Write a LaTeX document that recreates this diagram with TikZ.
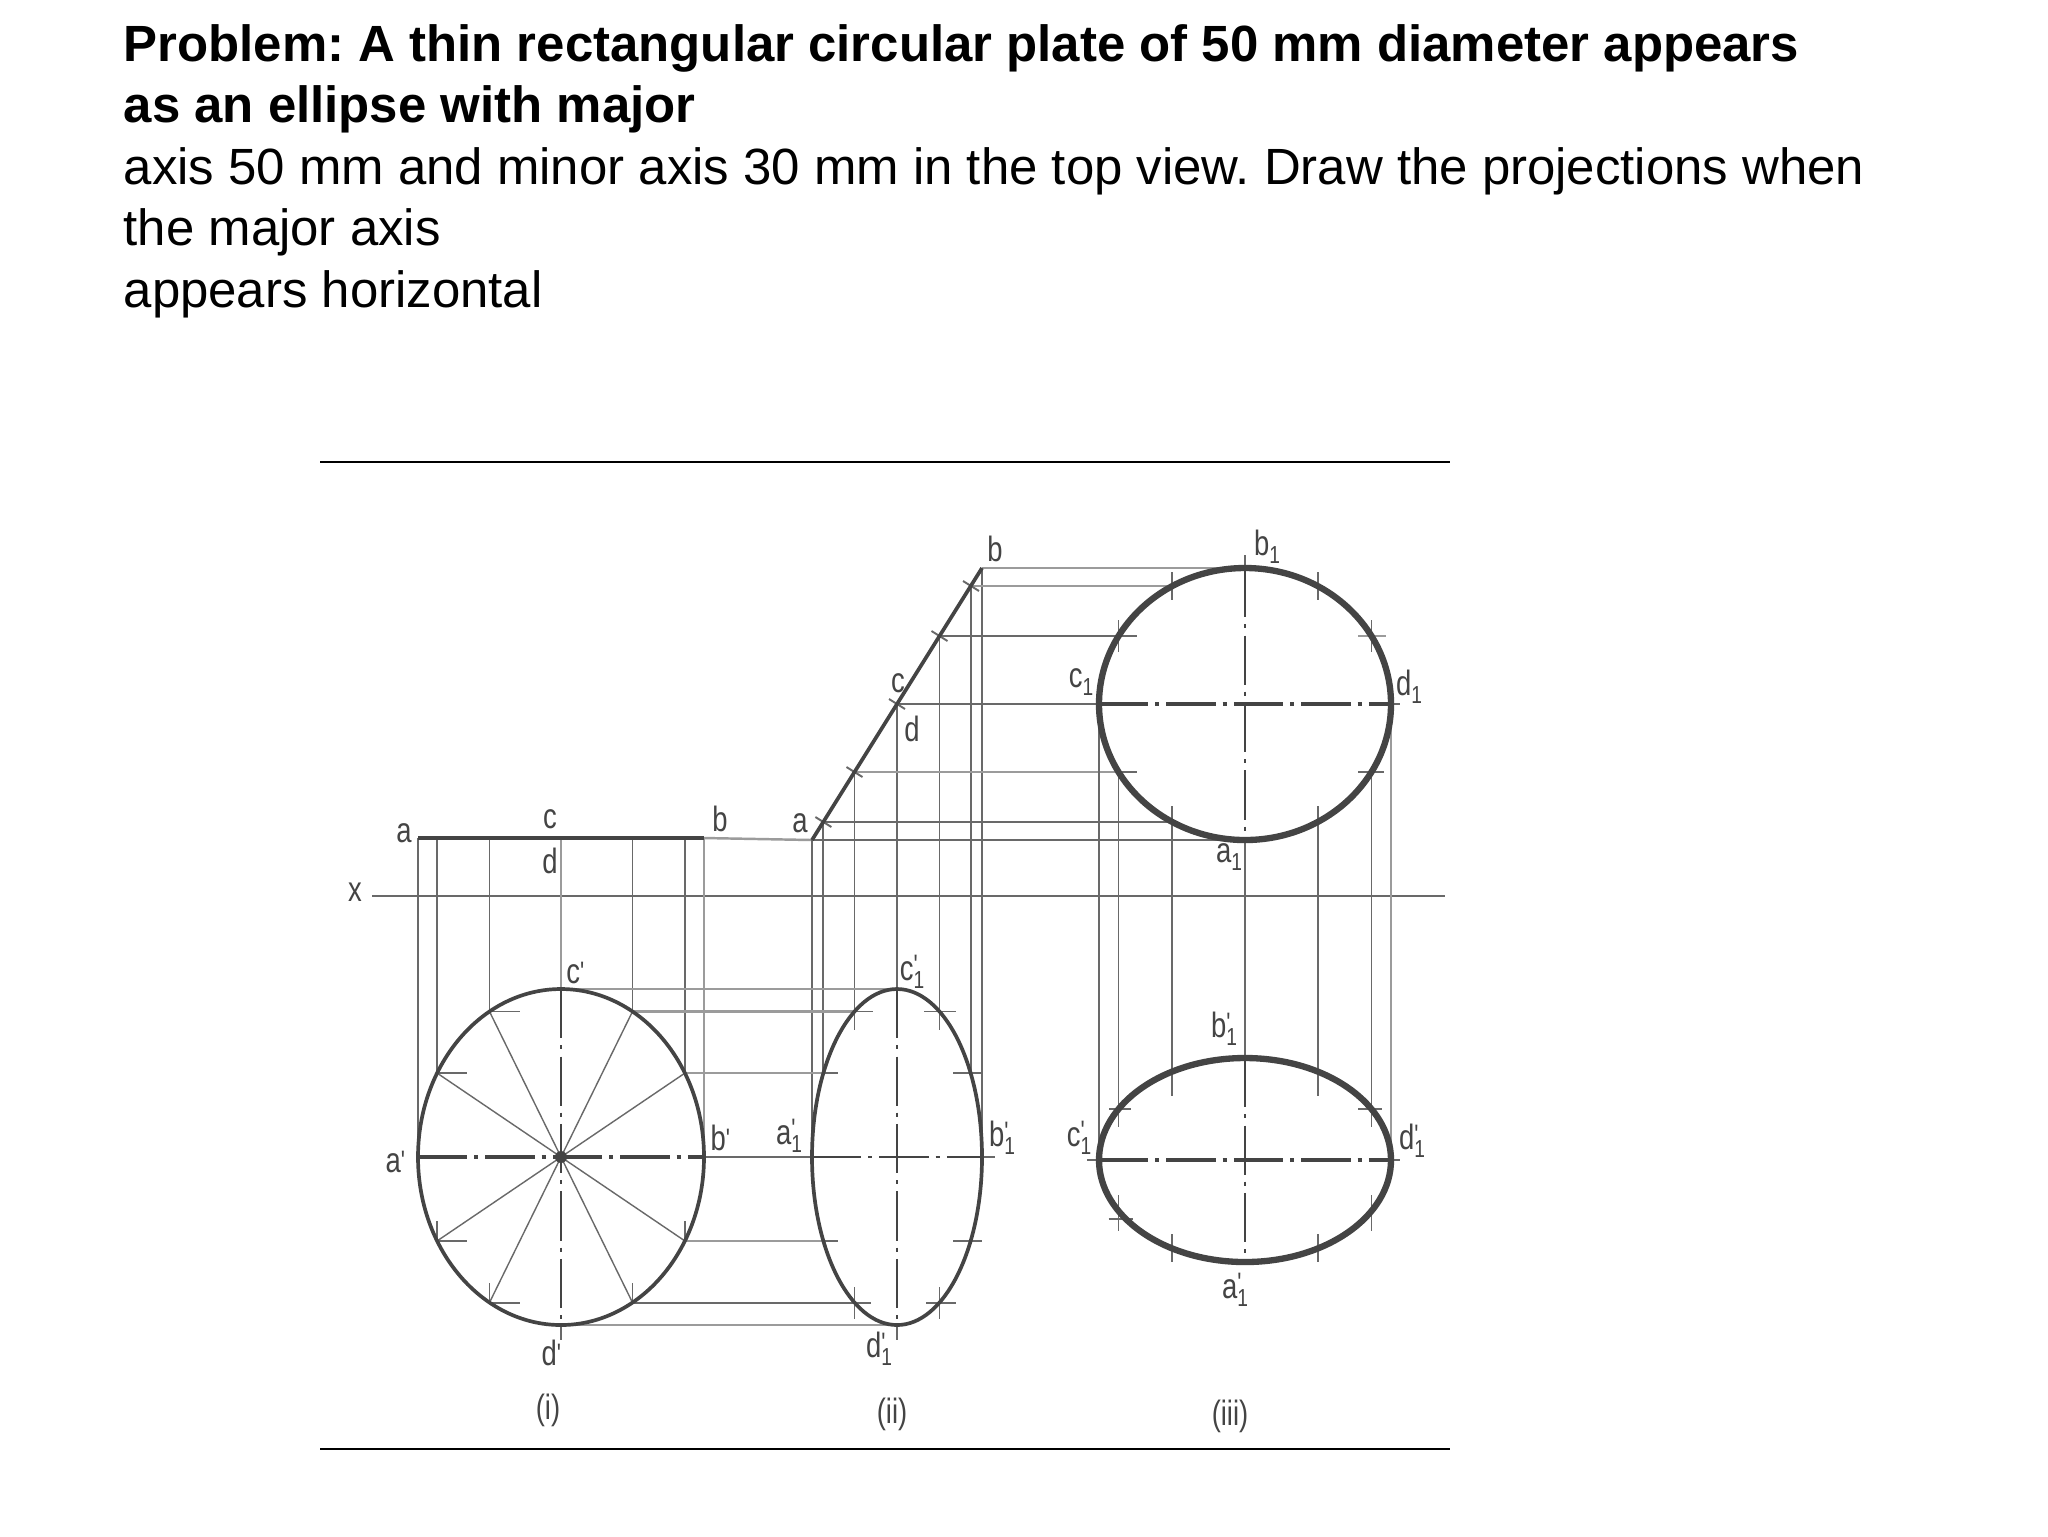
\documentclass[tikz,border=0pt]{standalone}
\usepackage{fontspec}
\setmainfont{Liberation Sans}
\newfontfamily\scanfont[FakeStretch=0.78]{Liberation Sans}
\usepackage{xcolor}
\definecolor{Col1}{RGB}{68,68,68}
\definecolor{Col2}{RGB}{105,105,105}
\definecolor{Col3}{RGB}{155,155,155}
\usepackage{tikz}
\frenchspacing
\newcommand{\Low}[1]{#1\raisebox{-.45ex}{\scriptsize 1}}
\newcommand{\High}[1]{#1\rlap{\raisebox{.3ex}{\footnotesize\textquotesingle}}\raisebox{-.45ex}{\scriptsize 1}}
\newcommand{\Tick}[1]{#1\raisebox{.1ex}{\footnotesize\textquotesingle}}
\tikzstyle{Title}=[anchor=base west,inner sep=0pt,font=\fontsize{14.49}{17}\selectfont]
\tikzstyle{NodeST}=[inner sep=0pt,text=Col1,font=\fontsize{10}{12}\scanfont]
\tikzstyle{Rule}=[draw=black,line width=.65pt]
\tikzstyle{Proj}=[draw=Col2,line width=.55pt]
\tikzstyle{ProjL}=[draw=Col3,line width=.7pt]
\tikzstyle{Spoke}=[draw=Col2,line width=.4pt]
\tikzstyle{Edge}=[draw=Col1,line width=1.05pt]
\tikzstyle{EdgeB}=[draw=Col1,line width=1.8pt]
\tikzstyle{Axis}=[draw=Col1,line width=.6pt,dash pattern=on 14pt off 2pt on 1.2pt off 2pt]
\begin{document}
\begin{tikzpicture}[x=.1mm,y=-.1mm]
        \useasboundingbox(0,0)rectangle(2048,1536);
        \fill[white](0,0)rectangle(2048,1536);
        \node[Title](t1)at(123,61){\bfseries Problem: A thin rectangular circular plate of 50 mm diameter appears};
        \node[Title](t2)at(123,122.5){\bfseries as an ellipse with major};
        \node[Title](t3)at(123,184){axis 50 mm and minor axis 30 mm in the top view. Draw the projections when};
        \node[Title](t4)at(123,245){the major axis};
        \node[Title](t5)at(123,307){appears horizontal};
        \coordinate(r1)at(320,462);
        \coordinate(r2)at(1450,462);
        \coordinate(r3)at(320,1449);
        \coordinate(r4)at(1450,1449);
        \coordinate(x1)at(372,896);
        \coordinate(x2)at(1445,896);
        \coordinate(TA)at(418,838);
        \coordinate(T1)at(437,838);
        \coordinate(T2)at(489.5,838);
        \coordinate(T3)at(561,838);
        \coordinate(T4)at(632.5,838);
        \coordinate(T5)at(685,838);
        \coordinate(TB)at(704,838);
        \coordinate(O1)at(561,1157);
        \coordinate(PA)at(418,1157);
        \coordinate(PB)at(704,1157);
        \coordinate(PC)at(561,989);
        \coordinate(PD)at(561,1325);
        \coordinate(PE)at(561,1340);
        \coordinate(P1)at(437,1073);
        \coordinate(P2)at(489.5,1011.5);
        \coordinate(P4)at(632.5,1011.5);
        \coordinate(P5)at(685,1073);
        \coordinate(Q1)at(437,1241);
        \coordinate(Q2)at(489.5,1302.5);
        \coordinate(Q4)at(632.5,1302.5);
        \coordinate(Q5)at(685,1241);
        \coordinate(SA)at(812,840);
        \coordinate(S1)at(823.4,822);
        \coordinate(S2)at(854.5,772);
        \coordinate(S3)at(897,704);
        \coordinate(S4)at(939.5,636);
        \coordinate(S5)at(971,586);
        \coordinate(SB)at(982,568);
        \coordinate(O2)at(897,1157);
        \coordinate(UA)at(812,1157);
        \coordinate(UB)at(982,1157);
        \coordinate(UE)at(995,1157);
        \coordinate(UC)at(897,989);
        \coordinate(UD)at(897,1325);
        \coordinate(UF)at(897,1340);
        \coordinate(U1)at(823.4,1073);
        \coordinate(U2)at(854.5,1011.5);
        \coordinate(U4)at(939.5,1011.5);
        \coordinate(U5)at(971,1073);
        \coordinate(V1)at(823.4,1241);
        \coordinate(V2)at(854.5,1302.5);
        \coordinate(V4)at(939.5,1302.5);
        \coordinate(V5)at(971,1241);
        \coordinate(O3)at(1245,704);
        \coordinate(WA)at(1245,840);
        \coordinate(WB)at(1245,568);
        \coordinate(WE)at(1245,555);
        \coordinate(WC)at(1099,704);
        \coordinate(WD)at(1391,704);
        \coordinate(WF)at(1400,704);
        \coordinate(W1)at(1172,586);
        \coordinate(W2)at(1118.5,636);
        \coordinate(W4)at(1318,586);
        \coordinate(W5)at(1371.5,636);
        \coordinate(W6)at(1118.5,772);
        \coordinate(W7)at(1172,822);
        \coordinate(W8)at(1318,822);
        \coordinate(W9)at(1371.5,772);
        \coordinate(O4)at(1245,1160);
        \coordinate(XA)at(1245,1262);
        \coordinate(XB)at(1245,1058);
        \coordinate(XC)at(1099,1160);
        \coordinate(XD)at(1391,1160);
        \coordinate(XE)at(1087,1160);
        \coordinate(XF)at(1400,1160);
        \coordinate(X1)at(1172,1072);
        \coordinate(X2)at(1118.5,1109);
        \coordinate(X4)at(1318,1072);
        \coordinate(X5)at(1371.5,1109);
        \coordinate(X6)at(1118.5,1211);
        \coordinate(X7)at(1172,1248);
        \coordinate(X8)at(1318,1248);
        \coordinate(X9)at(1371.5,1211);
        \draw[Rule](r1)--(r2);
        \draw[Rule](r3)--(r4);
        \draw[Proj,line width=.7pt](x1)--(x2);
        \draw[Proj](TA)--(PA);
        \draw[Proj](T1)--(P1);
        \draw[Proj](T2)--(P2);
        \draw[ProjL](T3)--(PC);
        \draw[Proj](T4)--(P4);
        \draw[Proj](T5)--(P5);
        \draw[ProjL](TB)--(PB);
        \draw[ProjL](TB)--(SA);
        \draw[Proj](SA)--(WA);
        \draw[Proj](SA)--(UA);
        \draw[Proj](S1)--(U1);
        \draw[Proj](S2)--(U2);
        \draw[Proj](S3)--(UC);
        \draw[Proj](S4)--(U4);
        \draw[Proj](S5)--(U5);
        \draw[Proj](SB)--(UB);
        \draw[ProjL](SB)--(WB);
        \draw[ProjL](S5)--(W1);
        \draw[Proj](S4)--(W2);
        \draw[Proj](S3)--(WC);
        \draw[ProjL](S2)--(W6);
        \draw[Proj](S1)--(W7);
        \draw[Proj](WC)--(XC);
        \draw[Proj](W6)--(X2);
        \draw[Proj](W7)--(X1);
        \draw[Proj](WA)--(XB);
        \draw[Proj](W8)--(X4);
        \draw[Proj](W9)--(X5);
        \draw[ProjL](WD)--(XD);
        \draw[ProjL](PC)--(UC);
        \draw[ProjL](P4)--(U2);
        \draw[ProjL](P5)--(U1);
        \draw[Proj](PB)--(UA);
        \draw[ProjL](Q5)--(V1);
        \draw[Proj](Q4)--(V2);
        \draw[ProjL](PD)--(UD);
        \draw[Spoke](P1)--(Q5);
        \draw[Spoke](P2)--(Q4);
        \draw[Spoke](P4)--(Q2);
        \draw[Spoke](P5)--(Q1);
        \draw[Axis,line width=.9pt](PA)--(PB);
        \draw[Axis](PC)--(PD);
        \draw[Proj](PD)--(PE);
        \draw[Axis,line width=.55pt](UA)--(UB);
        \draw[Proj](UB)--(UE);
        \draw[Axis,line width=.55pt](UC)--(UD);
        \draw[Proj](UD)--(UF);
        \draw[Axis,line width=.9pt](WC)--(WD);
        \draw[Proj](WD)--(WF);
        \draw[Axis,line width=.55pt](WB)--(WA);
        \draw[Proj](WE)--(WB);
        \draw[Axis,line width=.9pt](XC)--(XD);
        \draw[Proj](XE)--(XC);
        \draw[Proj](XD)--(XF);
        \draw[Axis,line width=.55pt](XB)--(XA);
        \fill[Col1](O1)circle(6);
        \draw[Proj](P1)--++(30,0);
        \draw[Proj](P2)--++(30,0);
        \draw[Proj](Q1)--++(30,0);
        \draw[Proj](Q1)--++(0,-20);
        \draw[Proj](Q2)--++(30,0);
        \draw[Proj](Q2)--++(0,-20);
        \draw[Proj](Q4)--++(0,-20);
        \draw[Proj](Q5)--++(0,-20);
        \draw[Proj](U1)--++(15,0);
        \draw[Proj](U2)--++(18,0);
        \draw[Proj](U2)--++(0,18);
        \draw[Proj](U4)--++(-16,0);
        \draw[Proj](U4)--++(16,0);
        \draw[Proj](U4)--++(0,18);
        \draw[Proj](U5)--++(-18,0);
        \draw[Proj](U5)--++(11,0);
        \draw[Proj](V1)--++(15,0);
        \draw[Proj](V2)--++(16,0);
        \draw[Proj](V2)--++(0,-16);
        \draw[Proj](V2)--++(0,16);
        \draw[Proj](V4)--++(-14,0);
        \draw[Proj](V4)--++(16,0);
        \draw[Proj](V4)--++(0,-16);
        \draw[Proj](V4)--++(0,16);
        \draw[Proj](V5)--++(-18,0);
        \draw[Proj](V5)--++(11,0);
        \draw[Proj](W1)--++(0,-14);
        \draw[Proj](W1)--++(0,14);
        \draw[Proj](W4)--++(0,-14);
        \draw[Proj](W4)--++(0,14);
        \draw[Proj](W2)--++(0,-16);
        \draw[Proj](W2)--++(0,16);
        \draw[Proj](W2)--++(18,0);
        \draw[ProjL](W5)--++(-14,0);
        \draw[ProjL](W5)--++(14,0);
        \draw[Proj](W5)--++(0,-16);
        \draw[Proj](W5)--++(0,16);
        \draw[Proj](W6)--++(18,0);
        \draw[Proj](W9)--++(-14,0);
        \draw[Proj](W9)--++(12,0);
        \draw[Proj](W7)--++(0,-16);
        \draw[Proj](W8)--++(0,-16);
        \draw[Proj](X1)--++(0,24);
        \draw[Proj](X4)--++(0,24);
        \draw[Proj](X2)--++(-10,0);
        \draw[Proj](X2)--++(12,0);
        \draw[Proj](X2)--++(0,18);
        \draw[Proj](X5)--++(-14,0);
        \draw[Proj](X5)--++(10,0);
        \draw[Proj](X5)--++(0,18);
        \draw[Proj](X6)--++(0,-16);
        \draw[Proj](X6)--++(0,20);
        \draw[Proj](X6)++(-10,8)--++(24,0);
        \draw[Proj](X7)--++(0,-14);
        \draw[Proj](X7)--++(0,14);
        \draw[Proj](X8)--++(0,-14);
        \draw[Proj](X8)--++(0,14);
        \draw[Proj](X9)--++(0,-16);
        \draw[Proj](X9)--++(0,20);
        \draw[Proj](S1)++(-8,-5)--++(16,10);
        \draw[Proj](S2)++(-8,-5)--++(16,10);
        \draw[Proj](S3)++(-8,-5)--++(16,10);
        \draw[Proj](S4)++(-8,-5)--++(16,10);
        \draw[Proj](S5)++(-8,-5)--++(16,10);
        \draw[EdgeB,line width=1.2pt](TA)--(TB);
        \draw[Edge](SA)--(SB);
        \draw[Edge](O1)ellipse[x radius=143,y radius=168];
        \draw[Edge](O2)ellipse[x radius=85,y radius=168];
        \draw[EdgeB](O3)ellipse[x radius=146,y radius=136];
        \draw[EdgeB](O4)ellipse[x radius=146,y radius=102];
        \node[NodeST](x)at(355,892){x};
        \node[NodeST](a)at(404,833){a};
        \node[NodeST](c)at(550,819){c};
        \node[NodeST](d)at(550,861){d};
        \node[NodeST](b)at(720,819){b};
        \node[NodeST](a2)at(800,823){a};
        \node[NodeST](b2)at(995,549){b};
        \node[NodeST](c2)at(898,683){c};
        \node[NodeST](d2)at(912,729){d};
        \node[NodeST](b3)at(1267,547){\Low{b}};
        \node[NodeST](c3)at(1081,682){\Low{c}};
        \node[NodeST](d3)at(1409,687){\Low{d}};
        \node[NodeST](a3)at(1229,857){\Low{a}};
        \node[NodeST](ap)at(396,1162){\Tick{a}};
        \node[NodeST](bp)at(721,1138){\Tick{b}};
        \node[NodeST](cp)at(576,973){\Tick{c}};
        \node[NodeST](dp)at(552,1353){\Tick{d}};
        \node[NodeST](c4)at(912,972){\High{c}};
        \node[NodeST](a4)at(789,1136){\High{a}};
        \node[NodeST](b4)at(1002,1138){\High{b}};
        \node[NodeST](d4)at(879,1349){\High{d}};
        \node[NodeST](b5)at(1224,1029){\High{b}};
        \node[NodeST](c5)at(1079,1138){\High{c}};
        \node[NodeST](d5)at(1412,1141){\High{d}};
        \node[NodeST](a5)at(1235,1290){\High{a}};
        \node[NodeST](v1)at(548,1410){(i)};
        \node[NodeST](v2)at(892,1414){(ii)};
        \node[NodeST](v3)at(1230,1416){(iii)};
    \end{tikzpicture}
\end{document}
